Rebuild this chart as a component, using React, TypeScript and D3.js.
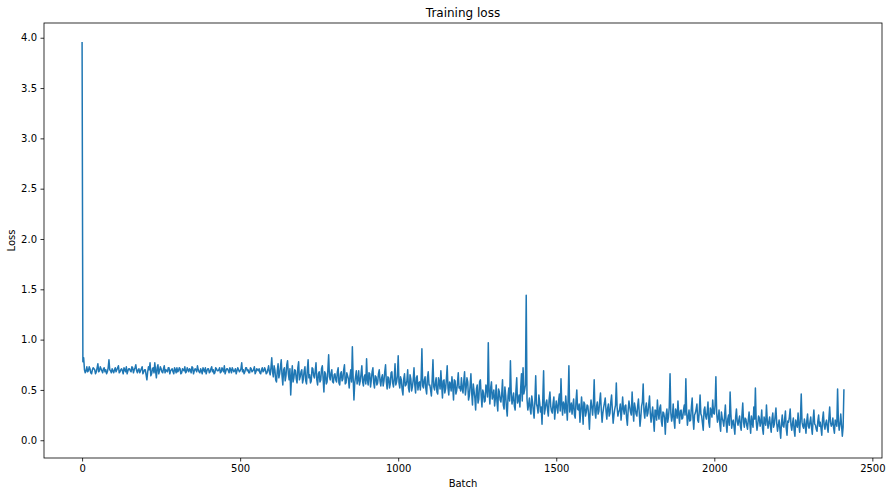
import * as React from "react";
import * as d3 from "d3";

// loss, one value every 5 batches (batch 0 .. 2410)
const batchStep = 5;
const lossValues: number[] = [
  3.95, 0.82, 0.67, 0.73, 0.69, 0.71, 0.66, 0.72, 0.70, 0.68, 0.76, 0.69, 0.71, 0.67, 0.72, 0.70, 0.68, 0.80, 0.69, 0.71,
  0.67, 0.72, 0.70, 0.74, 0.68, 0.71, 0.66, 0.70, 0.73, 0.69, 0.71, 0.68, 0.72, 0.70, 0.75, 0.67, 0.71, 0.69, 0.73, 0.68,
  0.70, 0.60, 0.73, 0.77, 0.66, 0.72, 0.77, 0.62, 0.75, 0.69, 0.71, 0.67, 0.74, 0.70, 0.68, 0.72, 0.69, 0.71, 0.66, 0.70,
  0.72, 0.69, 0.71, 0.67, 0.70, 0.73, 0.68, 0.70, 0.71, 0.67, 0.72, 0.69, 0.70, 0.74, 0.68, 0.71, 0.66, 0.70, 0.72, 0.69,
  0.71, 0.68, 0.73, 0.70, 0.67, 0.71, 0.69, 0.72, 0.68, 0.70, 0.74, 0.69, 0.71, 0.67, 0.70, 0.72, 0.68, 0.71, 0.69, 0.70,
  0.69, 0.77, 0.70, 0.68, 0.72, 0.70, 0.67, 0.71, 0.69, 0.73, 0.68, 0.70, 0.71, 0.66, 0.72, 0.69, 0.70, 0.67, 0.74, 0.65,
  0.82, 0.63, 0.70, 0.58, 0.76, 0.66, 0.80, 0.55, 0.72, 0.64, 0.79, 0.60, 0.45, 0.74, 0.62, 0.69, 0.57, 0.78, 0.63, 0.70,
  0.61, 0.73, 0.56, 0.80, 0.65, 0.59, 0.71, 0.62, 0.77, 0.55, 0.68, 0.60, 0.74, 0.48, 0.66, 0.58, 0.85, 0.60, 0.70, 0.57,
  0.66, 0.58, 0.72, 0.55, 0.68, 0.61, 0.75, 0.57, 0.64, 0.52, 0.70, 0.93, 0.40, 0.63, 0.56, 0.69, 0.59, 0.74, 0.54, 0.65,
  0.81, 0.55, 0.66, 0.60, 0.72, 0.52, 0.63, 0.57, 0.70, 0.54, 0.65, 0.59, 0.75, 0.51, 0.62, 0.56, 0.68, 0.53, 0.76, 0.58,
  0.84, 0.52, 0.60, 0.45, 0.66, 0.55, 0.70, 0.48, 0.61, 0.53, 0.72, 0.47, 0.64, 0.57, 0.50, 0.91, 0.52, 0.63, 0.46, 0.68,
  0.55, 0.44, 0.80, 0.50, 0.62, 0.46, 0.58, 0.69, 0.42, 0.60, 0.51, 0.74, 0.45, 0.56, 0.63, 0.40, 0.59, 0.49, 0.67, 0.53,
  0.62, 0.47, 0.68, 0.52, 0.58, 0.44, 0.66, 0.35, 0.49, 0.30, 0.55, 0.41, 0.60, 0.33, 0.47, 0.39, 0.52, 0.97, 0.36, 0.58,
  0.44, 0.34, 0.55, 0.29, 0.48, 0.38, 0.60, 0.31, 0.45, 0.24, 0.52, 0.79, 0.36, 0.47, 0.30, 0.62, 0.40, 0.33, 0.66, 0.72,
  0.50, 1.44, 0.30, 0.42, 0.26, 0.38, 0.22, 0.64, 0.33, 0.45, 0.28, 0.16, 0.69, 0.31, 0.40, 0.24, 0.48, 0.29, 0.37, 0.21,
  0.39, 0.27, 0.46, 0.61, 0.25, 0.35, 0.44, 0.20, 0.74, 0.32, 0.26, 0.41, 0.22, 0.50, 0.30, 0.18, 0.43, 0.16, 0.36, 0.28,
  0.34, 0.11, 0.40, 0.25, 0.60, 0.22, 0.38, 0.29, 0.47, 0.18, 0.33, 0.42, 0.21, 0.36, 0.27, 0.45, 0.17, 0.31, 0.57, 0.24,
  0.30, 0.20, 0.43, 0.26, 0.35, 0.15, 0.39, 0.28, 0.48, 0.19, 0.32, 0.24, 0.41, 0.14, 0.34, 0.56, 0.22, 0.37, 0.27, 0.44,
  0.18, 0.33, 0.09, 0.29, 0.40, 0.21, 0.35, 0.14, 0.27, 0.06, 0.31, 0.23, 0.66, 0.19, 0.36, 0.12, 0.28, 0.39, 0.17, 0.30,
  0.22, 0.35, 0.61, 0.15, 0.30, 0.20, 0.42, 0.11, 0.27, 0.36, 0.18, 0.45, 0.24, 0.10, 0.33, 0.21, 0.38, 0.13, 0.29, 0.40,
  0.26, 0.63, 0.18, 0.30, 0.09, 0.22, 0.14, 0.35, 0.08, 0.25, 0.48, 0.12, 0.20, 0.06, 0.31, 0.15, 0.24, 0.10, 0.37, 0.13,
  0.21, 0.11, 0.28, 0.07, 0.18, 0.33, 0.52, 0.10, 0.24, 0.14, 0.30, 0.06, 0.19, 0.35, 0.12, 0.23, 0.08, 0.27, 0.16, 0.32,
  0.09, 0.20, 0.02, 0.25, 0.13, 0.29, 0.05, 0.18, 0.31, 0.10, 0.22, 0.04, 0.16, 0.27, 0.08, 0.46, 0.14, 0.21, 0.07, 0.26,
  0.12, 0.23, 0.06, 0.30, 0.15, 0.09, 0.25, 0.18, 0.05, 0.28, 0.11, 0.20, 0.08, 0.33, 0.14, 0.22, 0.07, 0.17, 0.51, 0.10,
  0.26, 0.04, 0.50,
];

// readings halfway between those above (batch 2.5, 7.5, ...), so the band fills in as in the picture
const lossBetween: number[] = [
  0.78, 0.70, 0.69, 0.68, 0.73, 0.67, 0.70, 0.71, 0.66, 0.72, 0.68, 0.73, 0.69, 0.71, 0.68, 0.66, 0.72, 0.70, 0.67, 0.69,
  0.70, 0.68, 0.72, 0.67, 0.70, 0.69, 0.72, 0.68, 0.66, 0.71, 0.69, 0.73, 0.67, 0.72, 0.69, 0.70, 0.67, 0.71, 0.66, 0.70,
  0.65, 0.68, 0.70, 0.64, 0.71, 0.67, 0.69, 0.72, 0.66, 0.73, 0.68, 0.71, 0.67, 0.69, 0.72, 0.66, 0.70, 0.68, 0.72, 0.67,
  0.68, 0.72, 0.66, 0.71, 0.69, 0.67, 0.72, 0.68, 0.70, 0.73, 0.66, 0.71, 0.68, 0.70, 0.67, 0.69, 0.72, 0.68, 0.66, 0.71,
  0.67, 0.71, 0.68, 0.66, 0.72, 0.69, 0.70, 0.67, 0.72, 0.68, 0.66, 0.71, 0.69, 0.72, 0.67, 0.70, 0.69, 0.66, 0.72, 0.68,
  0.71, 0.68, 0.66, 0.72, 0.69, 0.67, 0.72, 0.68, 0.70, 0.66, 0.71, 0.69, 0.67, 0.70, 0.68, 0.72, 0.66, 0.70, 0.68, 0.72,
  0.68, 0.74, 0.60, 0.69, 0.62, 0.73, 0.64, 0.70, 0.59, 0.75, 0.66, 0.71, 0.63, 0.58, 0.70, 0.61, 0.72, 0.60, 0.68, 0.57,
  0.69, 0.59, 0.70, 0.62, 0.57, 0.72, 0.64, 0.69, 0.60, 0.66, 0.58, 0.71, 0.61, 0.68, 0.56, 0.70, 0.63, 0.67, 0.58, 0.65,
  0.60, 0.68, 0.57, 0.66, 0.59, 0.70, 0.56, 0.67, 0.61, 0.64, 0.58, 0.62, 0.57, 0.69, 0.60, 0.55, 0.66, 0.58, 0.63, 0.56,
  0.60, 0.67, 0.53, 0.68, 0.57, 0.64, 0.55, 0.66, 0.59, 0.62, 0.54, 0.68, 0.58, 0.63, 0.52, 0.67, 0.57, 0.61, 0.55, 0.64,
  0.57, 0.63, 0.50, 0.61, 0.54, 0.59, 0.52, 0.65, 0.49, 0.60, 0.55, 0.62, 0.50, 0.58, 0.61, 0.54, 0.60, 0.51, 0.62, 0.55,
  0.50, 0.60, 0.53, 0.57, 0.48, 0.62, 0.51, 0.55, 0.59, 0.47, 0.61, 0.52, 0.58, 0.49, 0.54, 0.60, 0.46, 0.57, 0.52, 0.49,
  0.51, 0.59, 0.45, 0.62, 0.40, 0.54, 0.47, 0.56, 0.42, 0.51, 0.37, 0.58, 0.44, 0.50, 0.38, 0.55, 0.43, 0.49, 0.52, 0.41,
  0.50, 0.42, 0.38, 0.51, 0.40, 0.46, 0.35, 0.53, 0.32, 0.44, 0.39, 0.48, 0.41, 0.34, 0.50, 0.37, 0.45, 0.52, 0.39, 0.46,
  0.55, 0.41, 0.35, 0.31, 0.44, 0.29, 0.40, 0.36, 0.27, 0.38, 0.33, 0.42, 0.26, 0.37, 0.30, 0.41, 0.34, 0.27, 0.43, 0.31,
  0.33, 0.40, 0.29, 0.36, 0.38, 0.27, 0.33, 0.41, 0.28, 0.37, 0.34, 0.25, 0.39, 0.31, 0.36, 0.29, 0.32, 0.38, 0.24, 0.35,
  0.25, 0.30, 0.33, 0.36, 0.28, 0.34, 0.26, 0.39, 0.30, 0.27, 0.37, 0.29, 0.32, 0.24, 0.38, 0.30, 0.25, 0.35, 0.33, 0.28,
  0.36, 0.29, 0.31, 0.34, 0.22, 0.30, 0.33, 0.25, 0.31, 0.37, 0.26, 0.34, 0.28, 0.23, 0.38, 0.29, 0.32, 0.24, 0.35, 0.27,
  0.26, 0.21, 0.30, 0.20, 0.27, 0.32, 0.19, 0.28, 0.22, 0.25, 0.18, 0.33, 0.27, 0.24, 0.20, 0.31, 0.22, 0.26, 0.29, 0.21,
  0.30, 0.25, 0.28, 0.23, 0.19, 0.33, 0.22, 0.25, 0.31, 0.20, 0.29, 0.26, 0.17, 0.30, 0.24, 0.28, 0.18, 0.32, 0.23, 0.27,
  0.35, 0.27, 0.22, 0.16, 0.28, 0.19, 0.24, 0.17, 0.21, 0.15, 0.26, 0.18, 0.13, 0.23, 0.19, 0.20, 0.14, 0.25, 0.18, 0.22,
  0.15, 0.20, 0.17, 0.24, 0.13, 0.21, 0.19, 0.16, 0.22, 0.18, 0.12, 0.23, 0.15, 0.20, 0.18, 0.14, 0.21, 0.13, 0.24, 0.17,
  0.15, 0.11, 0.17, 0.14, 0.21, 0.12, 0.19, 0.23, 0.15, 0.17, 0.10, 0.20, 0.13, 0.16, 0.22, 0.18, 0.12, 0.15, 0.19, 0.14,
  0.18, 0.13, 0.20, 0.16, 0.11, 0.19, 0.14, 0.12, 0.21, 0.15, 0.17, 0.13, 0.22, 0.18, 0.16, 0.12, 0.20, 0.14, 0.19, 0.16,
  0.15, 0.13,
];

const xTicks = [0, 500, 1000, 1500, 2000, 2500];
const yTicks = [0, 0.5, 1, 1.5, 2, 2.5, 3, 3.5, 4];

const title = "Training loss";
const xLabel = "Batch";
const yLabel = "Loss";

type Point = { batch: number; loss: number };

function drawChart(svgRef: React.RefObject<SVGSVGElement | null>) {
  const width = 891;
  const height = 496;
  const margin = { top: 23, right: 9, bottom: 38, left: 44 };
  const font = "DejaVu Sans, sans-serif";

  const data: Point[] = [];
  lossValues.forEach((v, i) => {
    data.push({ batch: i * batchStep, loss: v });
    if (i < lossBetween.length) data.push({ batch: i * batchStep + batchStep / 2, loss: lossBetween[i] });
  });

  // matplotlib-style 5% margins
  const xMax = d3.max(data, (d) => d.batch) as number;
  const xPad = xMax * 0.05;
  const [yMin, yMax] = d3.extent(data, (d) => d.loss) as [number, number];
  const yPad = (yMax - yMin) * 0.05;

  const x = d3
    .scaleLinear()
    .domain([-xPad, xMax + xPad])
    .range([margin.left, width - margin.right]);
  const y = d3
    .scaleLinear()
    .domain([yMin - yPad, yMax + yPad])
    .range([height - margin.bottom, margin.top]);

  const svg = d3.select(svgRef.current).attr("width", width).attr("height", height);
  svg.selectAll("*").remove();

  svg.append("rect").attr("width", width).attr("height", height).attr("fill", "#fff");

  const line = d3
    .line<Point>()
    .x((d) => x(d.batch))
    .y((d) => y(d.loss));

  svg
    .append("path")
    .datum(data)
    .attr("d", line)
    .attr("fill", "none")
    .attr("stroke", "#1f77b4")
    .attr("stroke-width", 1.5)
    .attr("stroke-linejoin", "round")
    .attr("stroke-linecap", "square");

  svg
    .append("g")
    .attr("transform", `translate(0, ${height - margin.bottom})`)
    .call(d3.axisBottom(x).tickValues(xTicks).tickSize(3.5).tickPadding(3.5).tickSizeOuter(0).tickFormat(d3.format("d")))
    .call((g) => g.select(".domain").remove())
    .call((g) => g.selectAll("line").attr("stroke", "#000").attr("stroke-width", 0.8))
    .call((g) => g.selectAll("text").attr("font-family", font).attr("font-size", 10).attr("fill", "#000"));

  svg
    .append("g")
    .attr("transform", `translate(${margin.left}, 0)`)
    .call(d3.axisLeft(y).tickValues(yTicks).tickSize(3.5).tickPadding(3.5).tickSizeOuter(0).tickFormat(d3.format(".1f")))
    .call((g) => g.select(".domain").remove())
    .call((g) => g.selectAll("line").attr("stroke", "#000").attr("stroke-width", 0.8))
    .call((g) => g.selectAll("text").attr("font-family", font).attr("font-size", 10).attr("fill", "#000"));

  // frame
  svg
    .append("rect")
    .attr("x", margin.left)
    .attr("y", margin.top)
    .attr("width", width - margin.left - margin.right)
    .attr("height", height - margin.top - margin.bottom)
    .attr("fill", "none")
    .attr("stroke", "#000")
    .attr("stroke-width", 0.8);

  svg
    .append("text")
    .text(title)
    .attr("x", (margin.left + width - margin.right) / 2)
    .attr("y", 17)
    .attr("text-anchor", "middle")
    .attr("font-family", font)
    .attr("font-size", 12);

  svg
    .append("text")
    .text(xLabel)
    .attr("x", (margin.left + width - margin.right) / 2)
    .attr("y", 487)
    .attr("text-anchor", "middle")
    .attr("font-family", font)
    .attr("font-size", 10);

  svg
    .append("text")
    .text(yLabel)
    .attr("transform", `translate(15, ${(margin.top + height - margin.bottom) / 2}) rotate(-90)`)
    .attr("text-anchor", "middle")
    .attr("font-family", font)
    .attr("font-size", 10);
}

const App = () => {
  const svgRef = React.useRef<SVGSVGElement | null>(null);

  React.useEffect(() => {
    drawChart(svgRef);
  }, [svgRef]);

  return (
    <div id="chart">
      <svg ref={svgRef} style={{ position: "absolute", left: 0, top: 0 }} />
    </div>
  );
};

export default App;
